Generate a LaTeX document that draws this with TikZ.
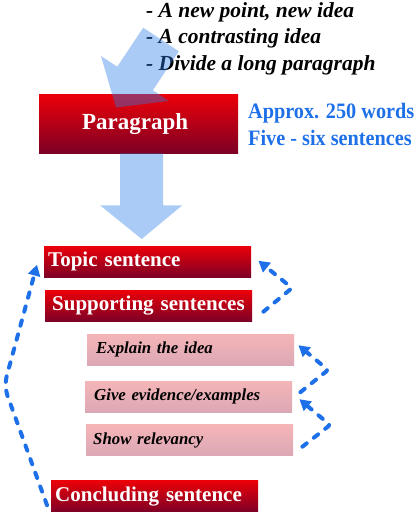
\documentclass[tikz,border=0pt]{standalone}
\usepackage{fontspec}
\setmainfont{Liberation Serif}
\newfontfamily\narrowserif[FakeStretch=0.92]{Liberation Serif}
\usetikzlibrary{arrows.meta,calc}
\definecolor{bigarrow}{RGB}{42,125,230}
\definecolor{dashblue}{RGB}{30,112,232}
\definecolor{redtop}{RGB}{236,0,8}
\definecolor{redbot}{RGB}{125,0,38}
\definecolor{pinktop}{RGB}{245,181,183}
\definecolor{pinkbot}{RGB}{219,168,181}
\begin{document}
\begin{tikzpicture}[x=1pt,y=-1pt,
  redbox/.style={top color=redtop, bottom color=redbot, draw=none,
    minimum height=31pt, inner ysep=0pt, anchor=north west,
    align=left, text=white, font=\bfseries\fontsize{21}{24}\selectfont},
  pinkbox/.style={top color=pinktop, bottom color=pinkbot, draw=none,
    minimum height=31pt, inner ysep=0pt, anchor=north west,
    align=left, text=black, font=\bfseries\itshape\fontsize{16.8}{20}\selectfont},
  fatarrow/.style={fill=bigarrow, fill opacity=0.4, draw=none},
  dasharrow/.style={draw=dashblue, line width=4pt, line cap=round,
    dash pattern=on 5.5pt off 9pt, rounded corners=2pt,
    -{Triangle[length=11pt,width=12pt]}}
]
\useasboundingbox (0,0) rectangle (420,512);

% top bullet text
\node[anchor=north west, inner sep=0pt, align=left,
  font=\bfseries\itshape\fontsize{21.5}{26.5}\selectfont] (bullets) at (146,2)
  {- A new point, new idea\\- A contrasting idea\\- Divide a long paragraph};

% paragraph box
\node[redbox, minimum width=199pt, minimum height=59pt, text width=191pt,
  inner xsep=4pt, align=center, font=\bfseries\fontsize{23}{26}\selectfont]
  (para) at (39,94) {\hspace*{-7pt}Paragraph};

% blue text
\node[anchor=north west, inner sep=0pt, align=left, text=dashblue,
  font=\narrowserif\bfseries\fontsize{22}{27}\selectfont] (info) at (248,103)
  {Approx. 250 words\\Five - six sentences};

% diagonal big arrow (drawn over paragraph box)
\fill[fatarrow] (143.2,27.7) -- (178.8,51.3) -- (152.8,90.3) -- (169,101)
  -- (116,107.5) -- (101,56) -- (117.2,66.7) -- cycle;

% sentence boxes
\node[redbox, text width=199pt, inner xsep=4pt] (topic) at (44,246) {Topic sentence};
\node[redbox, text width=193pt, inner xsep=7pt] (supp) at (45,290) {Supporting sentences};
\node[pinkbox, text width=189pt, inner xsep=9pt] (explain) at (87,334) {Explain the idea};
\node[pinkbox, text width=189pt, inner xsep=9pt] (give) at (85,381) {Give evidence/examples};
\node[pinkbox, text width=193pt, inner xsep=7pt] (show) at (86,424.5) {Show relevancy};
\node[redbox, text width=199pt, inner xsep=4pt, minimum height=32pt] (concl) at (51,480) {Concluding sentence};

% down big arrow from paragraph to topic sentence
\fill[fatarrow] ($(para.south)+(-18.5,0)$) -- ($(para.south)+(24.5,0)$)
  -- ($(para.south)+(24.5,52)$) -- ($(para.south)+(43.5,52)$)
  -- ($(topic.north)+(-6,-7)$) -- ($(para.south)+(-38.5,52)$)
  -- ($(para.south)+(-18.5,52)$) -- cycle;

% dashed arrows
\coordinate (b1) at (292,288);
\coordinate (b2) at (328,370);
\coordinate (b3) at (330,425);
\coordinate (b4) at (4,386);
\draw[dasharrow] ($(supp.east)+(11,6)$) -- (b1) -- ($(topic.east)+(7,-1)$);
\draw[dasharrow] ($(give.east)+(8,-4.5)$) -- (b2) -- ($(explain.east)+(4,-4.5)$);
\draw[dasharrow] ($(show.east)+(9,6.5)$) -- (b3) -- ($(give.east)+(7,2.5)$);
\draw[dasharrow, rounded corners=10pt] ($(concl.west)+(-4,9)$) -- (b4) -- ($(topic.west)+(-7,3)$);
\end{tikzpicture}
\end{document}
